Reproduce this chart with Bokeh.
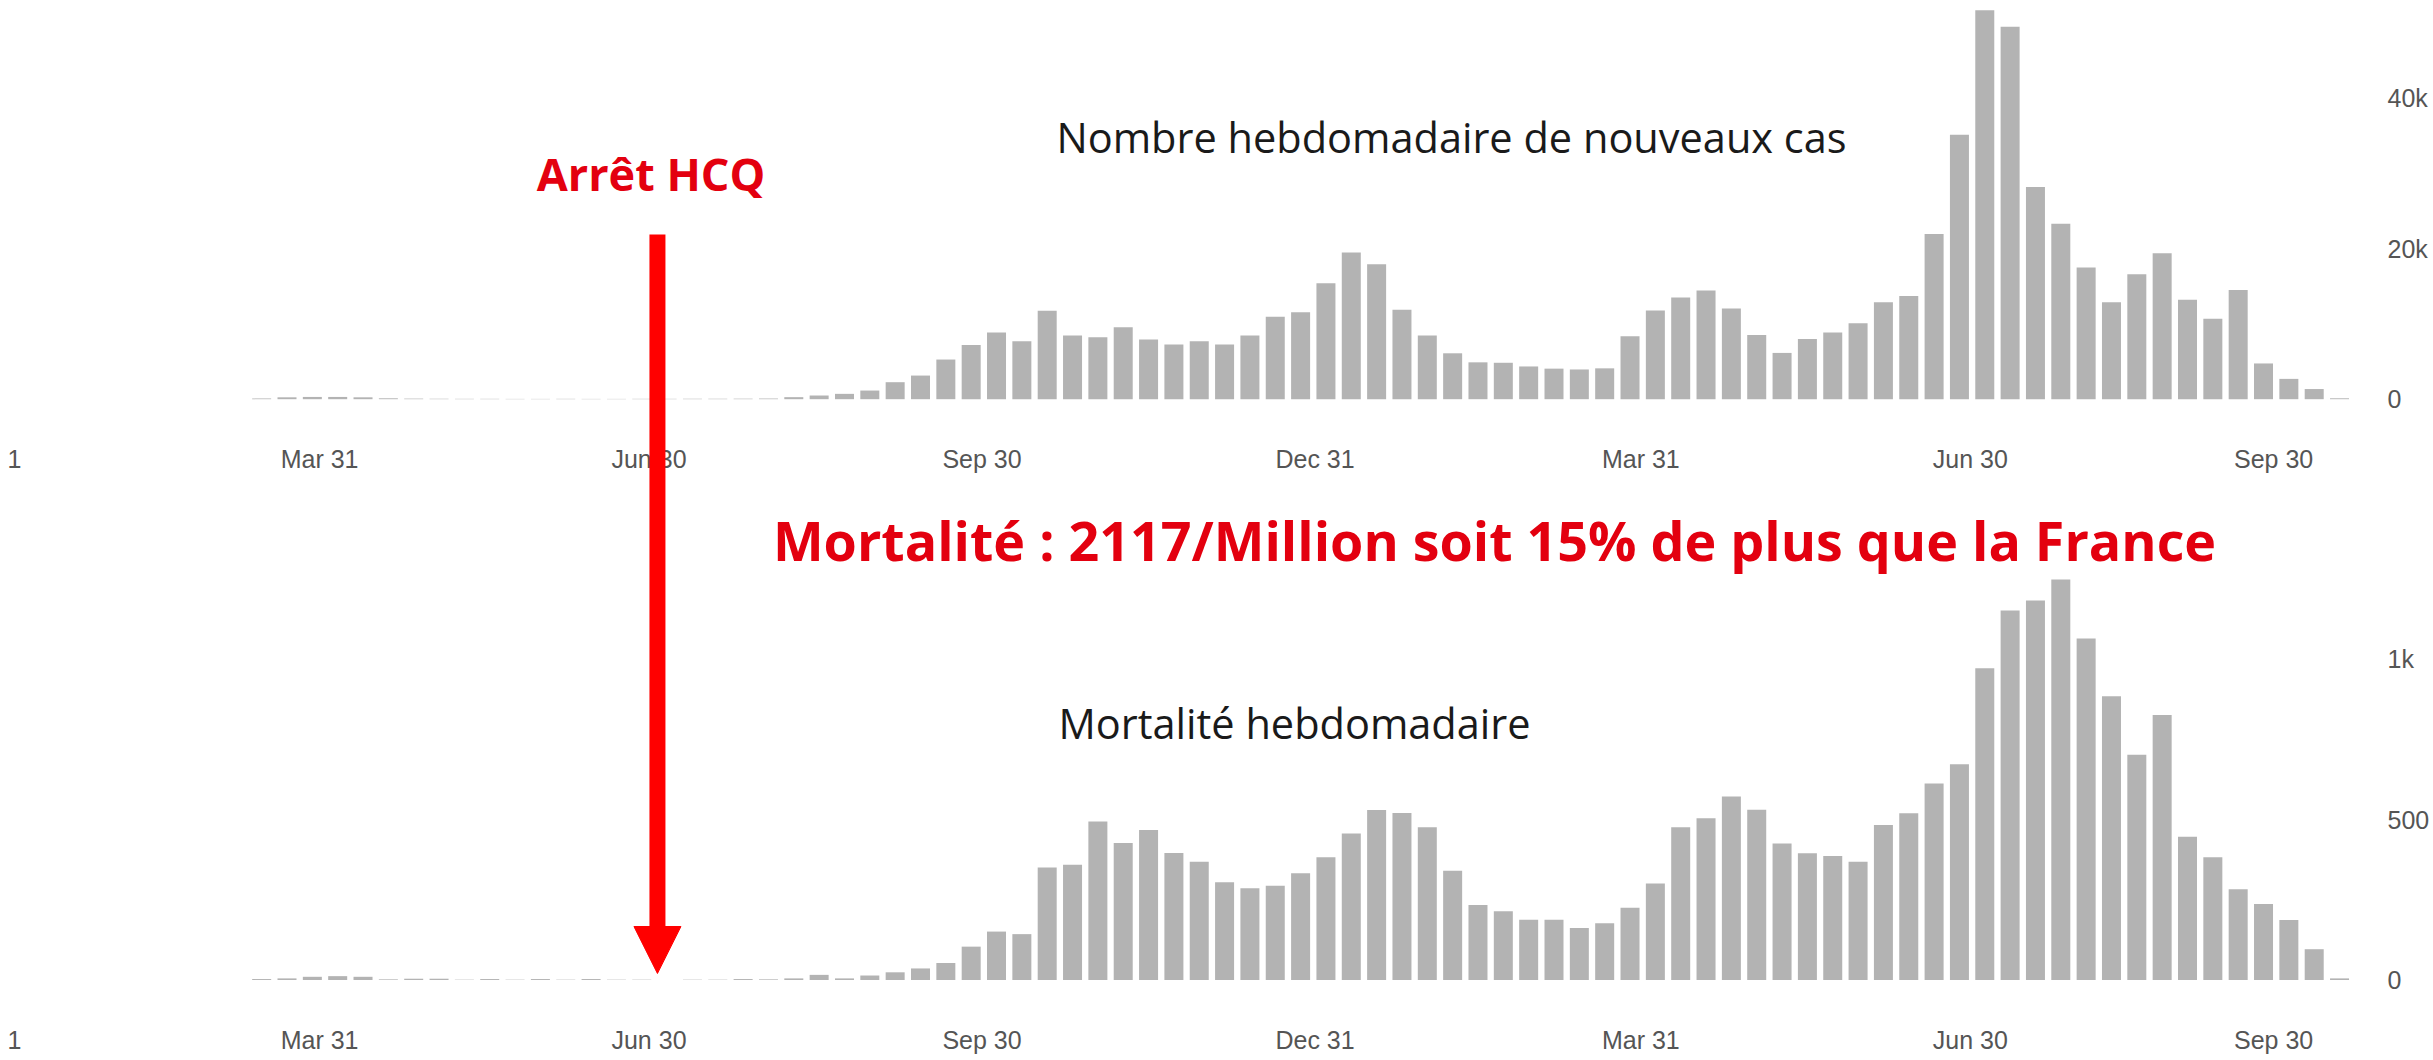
from datetime import datetime, timedelta
from bokeh.plotting import figure
from bokeh.models import (Range1d, DatetimeAxis, LinearAxis, FixedTicker,
                          NumeralTickFormatter, Label, Arrow, NormalHead,
                          ColumnDataSource, Grid)
from bokeh.embed import file_html
from bokeh.resources import INLINE

# ------------------------------------------------------------------ data
first_week = datetime(2020, 3, 15)          # weekly bars, one per week

weekly_cases = [
    100, 250, 300, 300, 250, 120, 80, 60, 50, 50, 40, 40, 50, 40, 40, 50, 50, 60, 60, 70, 90,
    270, 490, 710, 1150, 2260, 3140, 5270, 7200, 8850, 7700,
    11770, 8450, 8230, 9560, 7920, 7260, 7700, 7260, 8450, 10970,
    11570, 15400, 19500, 17950, 11900, 8450, 6100, 4900, 4840, 4350,
    4060, 3950, 4100, 8380, 11800, 13500, 14450, 12050, 8520, 6150,
    8000, 8880, 10080, 12900, 13730, 21950, 35150, 51700, 49500, 28200,
    23300, 17500, 12900, 16600, 19400, 13200, 10700, 14500, 4750, 2700,
    1350, 120,
]

weekly_deaths = [
    3, 5, 10, 12, 10, 2, 4, 4, 1, 3, 1, 3, 1, 3, 1, 1, 0, 1, 1, 3, 2,
    5, 16, 5, 14, 24, 36, 53, 104, 151, 143,
    351, 359, 494, 427, 468, 396, 369, 305, 286, 294,
    333, 383, 457, 530, 521, 476, 341, 234, 214, 188,
    188, 162, 177, 225, 301, 476, 504, 572, 531, 426,
    395, 387, 369, 483, 520, 613, 673, 972, 1152, 1183,
    1249, 1065, 885, 702, 826, 447, 383, 283, 237, 187,
    96, 5,
]

# x tick labels (the first is cut by the image edge, the last is held inside the plot)
tick_dates = [datetime(2020, 1, 6, 17), datetime(2020, 3, 31), datetime(2020, 6, 30),
              datetime(2020, 9, 30), datetime(2020, 12, 31), datetime(2021, 3, 31),
              datetime(2021, 6, 30), datetime(2021, 9, 21, 19)]
tick_labels = ["1", "Mar 31", "Jun 30", "Sep 30", "Dec 31", "Mar 31", "Jun 30", "Sep 30"]

cases_ticks = [0, 20000, 40000]
deaths_ticks = [0, 500, 1000]

title_cases = "Nombre hebdomadaire de nouveaux cas"
title_deaths = "Mortalité hebdomadaire"
note_hcq = "Arrêt HCQ"
note_mortality = "Mortalité : 2117/Million soit 15% de plus que la France"
hcq_stop = datetime(2020, 7, 2, 8)

# ------------------------------------------------------------------ layout
W, H = 2433, 1060
PX_PER_DAY = 3.62
ANCHOR_DATE = datetime(2021, 6, 30)
ANCHOR_PX = 1969.8            # canvas px of the anchor date

EPOCH = datetime(1970, 1, 1)


def ms(dt):
    return (dt - EPOCH).total_seconds() * 1000.0


def date_at(px):
    return ANCHOR_DATE + timedelta(days=(px - ANCHOR_PX) / PX_PER_DAY)


x_start = date_at(0)
x_end = date_at(W)

# panel baselines & scales (canvas px from top)
C_BASE, C_SCALE = 398.7, 0.007525
D_BASE, D_SCALE = 979.5, 0.3207

cases_range = Range1d((C_BASE - H) / C_SCALE, C_BASE / C_SCALE)
deaths_range = Range1d((D_BASE - H) / D_SCALE, D_BASE / D_SCALE)

dates = [first_week + timedelta(days=7 * i) for i in range(len(weekly_cases))]
src = ColumnDataSource(dict(date=dates, cases=weekly_cases, deaths=weekly_deaths))

p = figure(width=W, height=H, x_axis_type="datetime",
           x_range=Range1d(x_start, x_end), y_range=Range1d(H, 0),
           x_axis_location=None, y_axis_location=None,
           toolbar_location=None, output_backend="svg",
           min_border=0, outline_line_color=None,
           background_fill_color="white", border_fill_color="white")
for r in list(p.center):
    if isinstance(r, Grid):
        r.visible = False

p.extra_y_ranges = {"cases": cases_range, "deaths": deaths_range}

BAR = "#b3b3b3"
bar_w = 5.25 * 24 * 3600 * 1000
p.vbar(x="date", width=bar_w, top="cases", bottom=0, source=src,
       y_range_name="cases", fill_color=BAR, line_color=None)
p.vbar(x="date", width=bar_w, top="deaths", bottom=0, source=src,
       y_range_name="deaths", fill_color=BAR, line_color=None)

TICK_FONT = "Liberation Sans"
TICK_COLOR = "#555555"
tick_ms = [ms(d) for d in tick_dates]
overrides = {t: lab for t, lab in zip(tick_ms, tick_labels)}


def x_axis(range_name, standoff):
    ax = DatetimeAxis(y_range_name=range_name, fixed_location=0,
                      ticker=FixedTicker(ticks=tick_ms),
                      major_label_overrides=overrides,
                      axis_line_color=None, major_tick_line_color=None,
                      minor_tick_line_color=None, major_tick_out=0, major_tick_in=0,
                      major_label_standoff=standoff,
                      major_label_text_font=TICK_FONT,
                      major_label_text_font_size="25px",
                      major_label_text_color=TICK_COLOR)
    p.add_layout(ax, "below")


x_axis("cases", 46)
x_axis("deaths", 46)

y_axis_x = ms(date_at(2379))


def y_axis(range_name, ticks):
    ax = LinearAxis(y_range_name=range_name, fixed_location=y_axis_x,
                    ticker=FixedTicker(ticks=ticks),
                    formatter=NumeralTickFormatter(format="0a"),
                    axis_line_color=None, major_tick_line_color=None,
                    minor_tick_line_color=None, major_tick_out=0, major_tick_in=0,
                    major_label_standoff=8,
                    major_label_text_font=TICK_FONT,
                    major_label_text_font_size="25px",
                    major_label_text_color=TICK_COLOR)
    p.add_layout(ax, "right")


y_axis("cases", cases_ticks)
y_axis("deaths", deaths_ticks)

# ------------------------------------------------------------------ annotations
RED_TEXT = "#e3000f"
RED = "#ff0000"

p.add_layout(Label(x=ms(date_at(1451)), y=136.0, text=title_cases,
                   text_font="Open Sans", text_font_size="41.5px",
                   text_color="#1a1a1a", text_align="center",
                   text_baseline="alphabetic"))
p.add_layout(Label(x=ms(date_at(1294)), y=722.0, text=title_deaths,
                   text_font="Open Sans", text_font_size="41.5px",
                   text_color="#1a1a1a", text_align="center",
                   text_baseline="alphabetic"))
p.add_layout(Label(x=ms(date_at(650.5)), y=173.0, text=note_hcq,
                   text_font="Open Sans", text_font_size="45px",
                   text_font_style="bold", text_color=RED_TEXT,
                   text_align="center", text_baseline="alphabetic"))
p.add_layout(Label(x=ms(date_at(1494)), y=539.5, text=note_mortality,
                   text_font="Open Sans", text_font_size="53.8px",
                   text_font_style="bold", text_color=RED_TEXT,
                   text_align="center", text_baseline="alphabetic"))

p.add_layout(Arrow(x_start=ms(hcq_stop), y_start=234,
                   x_end=ms(hcq_stop), y_end=973,
                   line_color=RED, line_width=16, line_cap="butt",
                   end=NormalHead(size=47, fill_color=RED, line_color=RED,
                                  line_width=1)))

open("out.html", "w").write(file_html(p, INLINE))
